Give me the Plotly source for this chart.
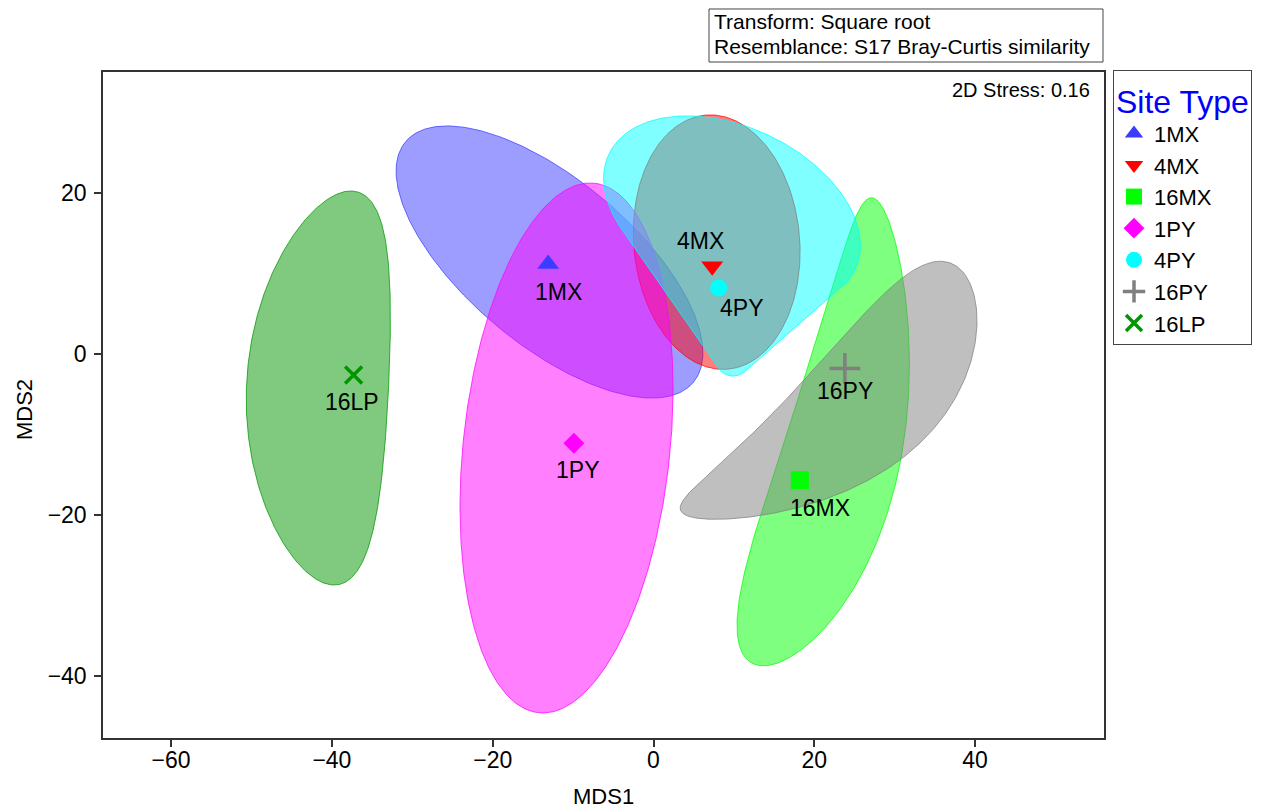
import numpy as np
import plotly.graph_objects as go

# ---- site centroids (nMDS ordination) ----
sites = ["1MX", "4MX", "16MX", "1PY", "4PY", "16PY", "16LP"]
mds1 = [-13.1, 7.3, 18.2, -9.9, 8.1, 23.8, -37.3]
mds2 = [11.2, 10.9, -15.7, -11.1, 8.2, -1.8, -2.6]

# ---- group regions: centre, semi-axes, orientation, bend, taper, optional tip ----
reg_cx = [-12.94, 7.86, 20.09, -10.82, 9.76, 21.00, -38.68]
reg_cy = [11.44, 13.91, -9.64, -11.69, 17.66, -4.75, -4.23]
reg_a = [23.33, 15.86, 29.93, 33.11, 16.92, 23.00, 24.53]
reg_b = [10.30, 10.32, 7.21, 12.86, 10.57, 7.60, 8.83]
reg_angle = [-39.9, 95.0, 76.05, 84.0, -25.0, 40.5, 87.2]
reg_bend = [0.0, 0.0, -3.93, 0.0, 0.0, -4.90, 3.11]
reg_taper = [0.0, 0.0, -0.30, 0.0, 0.0, 0.38, 0.0]
tip_x = [None, None, None, None, 9.89, None, None]
tip_y = [None, None, None, None, -0.55, None, None]
tip_r = [0, 0, 0, 0, 2.2, 0, 0]

# ---- styling ----
colors = ["#3c3cff", "#ff0000", "#00ff00", "#ff00ff", "#00ffff", "#808080", "#009600"]
symbols = ["triangle-up", "triangle-down", "square", "diamond", "circle", "cross-thin", "x-thin"]
msizes = [19, 19, 18, 16, 17, 22, 17]
label_shift = {  # pixel offsets of the site labels from their markers
    "1MX": (10, -28), "4MX": (-12, 25), "16MX": (20, -28), "1PY": (4, -27),
    "4PY": (23, -20), "16PY": (0, -23), "16LP": (-2, -27),
}

FONT = "Liberation Sans, Arial, sans-serif"


def rgba(hex_color, alpha):
    h = hex_color.lstrip("#")
    r, g, b = int(h[0:2], 16), int(h[2:4], 16), int(h[4:6], 16)
    return f"rgba({r},{g},{b},{alpha})"


def convex_hull(points):
    pts = sorted(set((round(float(px), 6), round(float(py), 6)) for px, py in points))

    def cross(o, p, q):
        return (p[0] - o[0]) * (q[1] - o[1]) - (p[1] - o[1]) * (q[0] - o[0])

    lower, upper = [], []
    for p in pts:
        while len(lower) >= 2 and cross(lower[-2], lower[-1], p) <= 0:
            lower.pop()
        lower.append(p)
    for p in reversed(pts):
        while len(upper) >= 2 and cross(upper[-2], upper[-1], p) <= 0:
            upper.pop()
        upper.append(p)
    hull = lower[:-1] + upper[:-1]
    hull.append(hull[0])
    return np.array(hull)


def region_outline(i, n=400):
    t = np.linspace(0, 2 * np.pi, n)
    u = reg_a[i] * np.cos(t)
    v = reg_b[i] * np.sin(t) * (1 + reg_taper[i] * np.cos(t)) + reg_bend[i] * np.sin(t) ** 2
    th = np.radians(reg_angle[i])
    x = reg_cx[i] + u * np.cos(th) - v * np.sin(th)
    y = reg_cy[i] + u * np.sin(th) + v * np.cos(th)
    if tip_r[i] > 0:
        ct = np.linspace(0, 2 * np.pi, 120)
        px = np.concatenate([x, tip_x[i] + tip_r[i] * np.cos(ct)])
        py = np.concatenate([y, tip_y[i] + tip_r[i] * np.sin(ct)])
        hull = convex_hull(np.column_stack([px, py]))
        return hull[:, 0], hull[:, 1]
    return x, y


fig = go.Figure()

# shaded regions
for i, s in enumerate(sites):
    x, y = region_outline(i)
    fig.add_trace(go.Scatter(
        x=x, y=y, mode="lines", fill="toself",
        fillcolor=rgba(colors[i], 0.5),
        line=dict(color=rgba(colors[i], 0.75), width=1),
        showlegend=False, hoverinfo="skip",
    ))

# centroid markers
for i, s in enumerate(sites):
    open_sym = symbols[i] in ("cross-thin", "x-thin")
    fig.add_trace(go.Scatter(
        x=[mds1[i]], y=[mds2[i]], mode="markers", name=s,
        legendgroup=s,
        marker=dict(
            symbol=symbols[i], size=msizes[i], color=colors[i],
            line=dict(color=colors[i], width=3.5 if open_sym else 0),
        ),
    ))

# site labels
for i, s in enumerate(sites):
    dx, dy = label_shift[s]
    fig.add_annotation(
        x=mds1[i], y=mds2[i], text=s, showarrow=False,
        xshift=dx, yshift=dy, font=dict(family=FONT, size=23, color="black"),
    )

# stress value
fig.add_annotation(
    xref="paper", yref="paper", x=0.988, y=0.973, xanchor="right", yanchor="middle",
    text="2D Stress: 0.16", showarrow=False,
    font=dict(family=FONT, size=20, color="black"),
)

# transform / resemblance box
fig.add_shape(type="rect", xref="paper", yref="paper",
              x0=0.6054, x1=0.999, y0=1.015, y1=1.0946,
              line=dict(color="#444444", width=1), fillcolor="white")
fig.add_annotation(xref="paper", yref="paper", x=0.6084, y=1.0751,
                   xanchor="left", yanchor="middle", showarrow=False,
                   text="Transform: Square root",
                   font=dict(family=FONT, size=21, color="black"))
fig.add_annotation(xref="paper", yref="paper", x=0.6084, y=1.039,
                   xanchor="left", yanchor="middle", showarrow=False,
                   text="Resemblance: S17 Bray-Curtis similarity",
                   font=dict(family=FONT, size=21, color="black"))

# axis titles
fig.add_annotation(xref="paper", yref="paper", x=0.5, y=-0.0871,
                   xanchor="center", yanchor="middle", showarrow=False,
                   text="MDS1", font=dict(family=FONT, size=22, color="black"))
fig.add_annotation(xref="paper", yref="paper", x=-0.0779, y=0.4925,
                   xanchor="center", yanchor="middle", showarrow=False, textangle=-90,
                   text="MDS2", font=dict(family=FONT, size=22, color="black"))

axis_common = dict(
    showgrid=False, zeroline=False, showline=True, linecolor="#333333", linewidth=1.5,
    mirror=True, ticks="outside", ticklen=7, tickwidth=1.5, tickcolor="#333333",
    tickfont=dict(family=FONT, size=23, color="black"),
)

fig.update_layout(
    width=1267, height=811,
    margin=dict(l=103, r=163, t=72, b=73),
    paper_bgcolor="white", plot_bgcolor="white",
    font=dict(family=FONT, color="black"),
    xaxis=dict(range=[-68.47, 56.03], tickvals=[-60, -40, -20, 0, 20, 40],
               ticklabelstandoff=-6, **axis_common),
    yaxis=dict(range=[-47.76, 35.07], tickvals=[-40, -20, 0, 20],
               ticklabelstandoff=3, **axis_common),
    legend=dict(
        x=1.009, y=1.003, xanchor="left", yanchor="top",
        bgcolor="white", bordercolor="#444444", borderwidth=1,
        font=dict(family=FONT, size=22, color="black"),
        title=dict(text="Site Type", font=dict(family=FONT, size=32, color="#0000ff")),
        itemsizing="trace", traceorder="grouped", tracegroupgap=0,
    ),
)

fig.write_html("out.html")
